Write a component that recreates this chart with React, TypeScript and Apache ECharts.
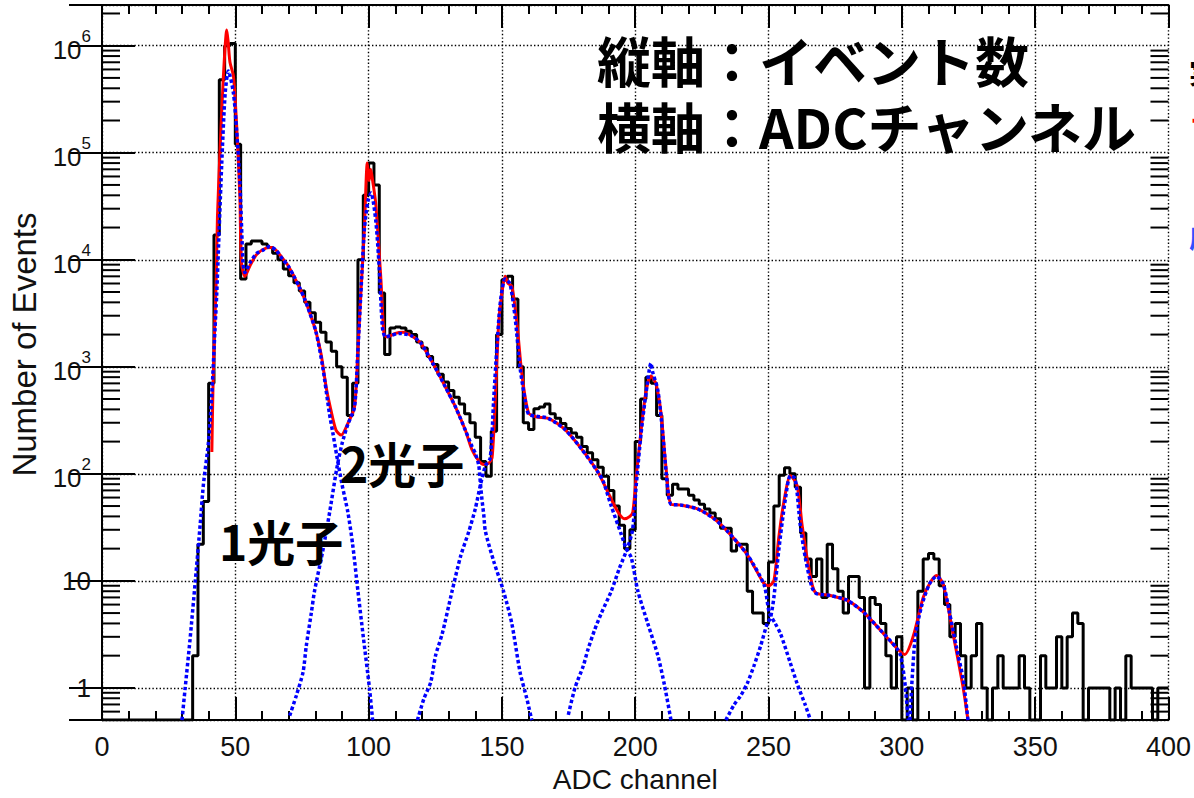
import React, { useEffect, useRef } from "react";
import * as echarts from "echarts";

// ---------- data ----------
const BIN_WIDTH = 2; // ADC channels per histogram bin
const FIRST_BIN = 0;
const X_MAX = 400;
const Y_MIN = 0.5;
const Y_MAX = 2.4e6;

// measured event counts, one value per 2-channel bin starting at channel 0
const eventCounts: number[] = [
  0, 0, 0, 0, 0, 0, 0, 0, 0, 0,
  0, 0, 0, 0, 0, 0, 0, 2, 22, 55,
  700, 17000, 480000, 1000000, 1050000, 120000, 6600, 14000, 15000, 15000,
  14000, 13000, 11500, 10000, 8200, 7100, 6100, 5100, 4000, 3200,
  2600, 2100, 1700, 1400, 1000, 800, 350, 700, 10000, 40000,
  80000, 50000, 4900, 1300, 2300, 2350, 2300, 2150, 2000, 1700,
  1500, 1250, 1050, 850, 720, 600, 520, 450, 365, 300,
  220, 130, 95, 250, 2000, 6500, 7000, 4300, 1000, 300,
  260, 405, 420, 450, 365, 330, 295, 265, 240, 220,
  180, 157, 135, 115, 95, 70, 50, 33, 20, 30,
  200, 500, 800, 700, 350, 90, 63, 80, 72, 72,
  63, 57, 52, 47, 43, 38, 31, 31, 19, 22,
  22, 8, 5, 5, 4, 15, 50, 97, 114, 100,
  75, 28, 16, 11, 16, 7, 22, 13, 8, 5,
  11, 11, 7, 1, 7, 6, 4, 2, 1, 3,
  0, 1, 0, 8, 16, 18, 16, 9, 6, 3,
  4, 2, 1, 2, 4, 1, 0, 1, 2, 1,
  1, 1, 2, 1, 0, 0, 2, 1, 1, 3,
  1, 3, 5, 4, 0, 1, 1, 1, 1, 0,
  1, 0, 2, 1, 1, 1, 1, 0, 1, 1,
];

// total fit function [channel, events]
const fitTotal: [number, number][] = [
  [41.2, 160], [41.6, 600], [42.2, 2100], [42.8, 6000], [43.3, 25000], [44.3, 110000],
  [45.5, 500000], [46.8, 1400000], [47.3, 1100000], [48, 700000], [49.3, 520000],
  [50.5, 180000], [51.7, 39000], [52.3, 9400], [53.6, 7000], [55.5, 8800], [58, 11200],
  [61.7, 12900], [63.5, 13000], [65.4, 12200], [67.5, 10500], [69.8, 8800], [72, 7000],
  [74.1, 5500], [76, 4300], [77.9, 3200], [80.3, 2100], [82.2, 1300], [84.1, 640],
  [85.9, 390], [87.8, 255], [89.7, 230], [92.2, 295], [94.7, 420], [95.9, 1300],
  [97.1, 4900], [98.4, 19000], [99.5, 80000], [100.2, 55000], [100.8, 70000],
  [101.5, 55000], [102.7, 33000], [104.6, 6600], [105.8, 2000], [107, 1900], [110, 2050],
  [113, 2100], [116, 1950], [119.5, 1670], [123.9, 1100], [128.9, 640], [132.6, 420],
  [136.3, 255], [138.8, 167], [141.3, 132], [143.2, 122], [145, 125], [146.3, 141],
  [147.5, 490], [148.8, 2600], [150, 4900], [151.2, 7000], [152.3, 6000], [153.7, 5700],
  [155.6, 2600], [157.5, 850], [160, 370], [163, 340], [167.4, 330], [173.6, 260],
  [179.9, 170], [186.1, 103], [189.8, 67], [193.5, 44], [196, 38], [198, 40], [199.1, 44],
  [200.4, 96], [202.2, 255], [204.1, 600], [205.9, 820], [207.8, 690], [209.7, 365],
  [211.6, 110], [213.4, 52], [217.2, 51], [223.4, 47], [229.6, 38], [234.6, 29],
  [242, 17.6], [248.3, 9.4], [250.1, 9], [252, 10], [253.8, 25], [255.7, 54], [258.2, 96],
  [260.7, 78], [262.6, 33], [265.1, 13.3], [267.5, 7.8], [273.1, 7.3], [279.4, 6.6],
  [285.6, 5.1], [291.8, 3.5], [298, 2.36], [301.1, 2.05], [304.2, 3], [308, 7],
  [310.5, 9.5], [313, 11.2], [315.5, 9.3], [319.2, 3.2], [323, 1.0], [324.8, 0.5],
];

// individual fit components (n-photon responses) [channel, events]
const comp1: [number, number][] = [
  [30, 0.5], [31.2, 1], [33, 2.8], [35, 10], [36.8, 33], [38, 78], [39.9, 194], [41.2, 560],
  [42.4, 2300], [43, 4600], [44.9, 78000], [46.2, 360000], [47.4, 580000], [49.3, 360000],
  [50.5, 160000], [51.7, 55000], [52.9, 9300], [53.6, 7600], [55.5, 9400], [58, 11500],
  [60.4, 12300], [62.9, 13300], [65.4, 12200], [67.9, 10000], [69.8, 8800], [72, 7000],
  [74.1, 5500], [76, 4300], [77.9, 3200], [80.3, 2100], [82.8, 990], [85.3, 365],
  [86.6, 240], [88, 150], [90, 80], [92.2, 44], [94, 22], [96, 8], [98, 3], [100.3, 1],
  [101.5, 0.5],
];
const comp2: [number, number][] = [
  [70.4, 0.55], [72.9, 0.85], [75.4, 1.4], [76.6, 2.45], [78.5, 5], [79.7, 8], [82.8, 19],
  [85.4, 44], [88, 110], [90, 190], [92.2, 290], [94.7, 420], [95.9, 1300], [97.1, 4900],
  [98.4, 19000], [99.7, 35000], [100.9, 42000], [102.7, 23000], [104, 8200], [105.2, 2300],
  [106.3, 1900], [108, 1950], [111.4, 2050], [116, 1950], [119.5, 1670], [123.9, 1100],
  [128.9, 640], [132.6, 420], [136.3, 255], [138.8, 180], [140, 156], [141.3, 120],
  [141.9, 83], [142.5, 58], [143.2, 41], [143.8, 29], [147, 15], [150.6, 8], [153.7, 4],
  [156.8, 1.4], [159.3, 0.8], [161.2, 0.5],
];
const comp3: [number, number][] = [
  [118.3, 0.5], [120.8, 0.8], [123.3, 1.13], [125.1, 2], [127.6, 3.2], [131.3, 8],
  [134.5, 17], [137.6, 29], [140, 47], [141.9, 78], [143.8, 119], [145.6, 140],
  [146.9, 490], [148.1, 1500], [149.4, 4000], [151.2, 6600], [153, 6000], [155, 2800],
  [156.8, 980], [158.7, 490], [160, 360], [163, 345], [167.4, 330], [173.6, 260],
  [179.9, 170], [186.1, 103], [188, 85], [191, 50], [194.8, 27], [196.6, 20], [198.5, 16.5],
  [201, 8], [204.7, 4], [208.5, 2], [211, 1.05], [213.4, 0.5],
];
const comp4: [number, number][] = [
  [174.9, 0.56], [177.4, 1], [180.5, 1.6], [182.3, 2.3], [184.8, 3.5], [187.3, 5], [191, 8],
  [194, 13], [197, 20], [199, 30], [200.4, 80], [202.2, 240], [204.1, 580], [205.9, 1080],
  [206.5, 900], [208.5, 600], [210.3, 240], [212.2, 72], [213.4, 52], [217.2, 51],
  [223.4, 47], [229.6, 38], [234.6, 29], [242, 17.6], [248.3, 9.2], [250.3, 5], [252.5, 4],
  [254.5, 3.2], [258.2, 1.7], [260.7, 1.1], [263.8, 0.69], [265.7, 0.5],
];
const comp5: [number, number][] = [
  [234, 0.5], [237, 0.69], [239.6, 0.85], [242, 1.1], [244.5, 1.6], [247, 2.45], [249.5, 4],
  [250.7, 4.5], [252, 7], [253.8, 19], [256.3, 58], [258.2, 96], [260, 90], [261.9, 33],
  [263.8, 16.4], [266.3, 8.7], [268, 7.6], [273.1, 7.3], [279.4, 6.6], [285.6, 5.1],
  [291.8, 3.5], [298, 2.36], [299.5, 2], [301, 1.2], [302.4, 0.5],
];
const comp6: [number, number][] = [
  [303, 0.5], [304.9, 2.8], [307.3, 5.7], [310.4, 9.4], [313, 11], [315.5, 9.4],
  [317.9, 5], [320.4, 2.45], [323, 1.2], [324.8, 0.5],
];
const components = [comp1, comp2, comp3, comp4, comp5, comp6];

const xAxisTitle = "ADC channel";
const yAxisTitle = "Number of Events";
const noteLines = ["縦軸：イベント数", "横軸：ADCチャンネル"];
const peakLabels = ["1光子", "2光子"];
const legendFragments = ["実測", "フィット", "成分"];

// ---------- helpers ----------
const LATIN = "'Liberation Sans', Arial, Helvetica, sans-serif";
const CJK = "'Noto Sans CJK JP', 'Noto Sans', sans-serif";

function histogramSteps(): [number, number][] {
  const shown = (c: number) => (c > 0 ? c : Y_MIN);
  const pts: [number, number][] = eventCounts.map((c, i) => [FIRST_BIN + i * BIN_WIDTH, shown(c)]);
  pts.push([FIRST_BIN + eventCounts.length * BIN_WIDTH, shown(eventCounts[eventCounts.length - 1])]);
  return pts;
}

function minorTickValues(): number[] {
  const vals: number[] = [];
  for (let e = -1; e <= 6; e++) {
    for (let k = 2; k <= 9; k++) {
      const v = k * Math.pow(10, e);
      if (v > Y_MIN * 1.01 && v < Y_MAX) vals.push(v);
    }
  }
  return vals;
}

const gridLine = { show: true, lineStyle: { color: "#000", width: 1.4, type: [1.4, 2.2] as number[] } };

export default function App() {
  const ref = useRef<HTMLDivElement>(null);
  useEffect(() => {
    const chart = echarts.init(ref.current!, null, { renderer: "svg" });
    const yAxisBase = {
      type: "log" as const,
      min: Y_MIN,
      max: Y_MAX,
      logBase: 10,
      axisLine: { show: true, lineStyle: { color: "#000", width: 2 } },
      axisTick: { show: true, inside: true, length: 33, lineStyle: { color: "#000", width: 2 } },
    };
    const xAxisBase = {
      type: "value" as const,
      min: 0,
      max: X_MAX,
      interval: 50,
      axisLine: { show: true, onZero: false, lineStyle: { color: "#000", width: 2 } },
      axisTick: { show: true, inside: true, length: 23, lineStyle: { color: "#000", width: 2 } },
      minorTick: { show: true, splitNumber: 5, length: 9, lineStyle: { color: "#000", width: 2 } },
    };

    const dottedBlue = (data: [number, number][]) => ({
      type: "line",
      data,
      showSymbol: false,
      symbol: "none",
      smooth: 0.25,
      clip: true,
      z: 4,
      lineStyle: { color: "#0000ff", width: 3.5, type: [3.5, 2.5] as number[] },
    });

    chart.setOption({
      animation: false,
      backgroundColor: "#fff",
      grid: { left: 98, right: 24, top: 5, bottom: 67, containLabel: false },
      xAxis: [
        {
          ...xAxisBase,
          position: "bottom",
          name: xAxisTitle,
          nameLocation: "middle",
          nameGap: 44,
          nameTextStyle: { fontFamily: LATIN, fontSize: 28, color: "#111" },
          axisLabel: { show: true, margin: 13, fontFamily: LATIN, fontSize: 27, color: "#111" },
          splitLine: gridLine,
        },
        {
          ...xAxisBase,
          position: "top",
          axisLabel: { show: false },
          splitLine: { show: false },
        },
      ],
      yAxis: [
        {
          ...yAxisBase,
          position: "left",
          name: yAxisTitle,
          nameLocation: "middle",
          nameGap: 61,
          nameTextStyle: { fontFamily: LATIN, fontSize: 33, color: "#111", padding: [0, 0, 0, 36] },
          splitLine: gridLine,
          axisLabel: {
            show: true,
            margin: 11,
            showMinLabel: false,
            showMaxLabel: false,
            fontFamily: LATIN,
            fontSize: 26,
            color: "#111",
            formatter: (v: number) => {
              const e = Math.round(Math.log10(v));
              if (e <= 0) return "1";
              if (e === 1) return "10";
              return `{b|10}{s|${e}}`;
            },
            rich: {
              b: { fontFamily: LATIN, fontSize: 26, color: "#111", lineHeight: 26, verticalAlign: "bottom" },
              s: { fontFamily: LATIN, fontSize: 17, color: "#111", lineHeight: 35, padding: [0, 0, 3, 0], verticalAlign: "top" },
            },
          },
        },
        {
          ...yAxisBase,
          position: "right",
          axisLabel: { show: false },
          splitLine: { show: false },
        },
      ],
      graphic: [
        {
          type: "text",
          left: 597,
          top: 26,
          z: 100,
          style: {
            text: noteLines.join("\n"),
            fontFamily: CJK,
            fontWeight: "bold",
            fontSize: 54,
            lineHeight: 66,
            fill: "#000",
          },
        },
        {
          type: "text",
          left: 219,
          top: 516,
          z: 100,
          style: { text: peakLabels[0], fontFamily: CJK, fontWeight: "bold", fontSize: 48, fill: "#000" },
        },
        {
          type: "text",
          left: 340,
          top: 438,
          z: 100,
          style: { text: peakLabels[1], fontFamily: CJK, fontWeight: "bold", fontSize: 48, fill: "#000" },
        },
        { type: "text", left: 1189, top: 58, z: 100, style: { text: legendFragments[0], fontFamily: CJK, fontWeight: "bold", fontSize: 28, fill: "#000" } },
        { type: "text", left: 1189, top: 114, z: 100, style: { text: legendFragments[1], fontFamily: CJK, fontWeight: "bold", fontSize: 28, fill: "#ff0000" } },
        { type: "text", left: 1189, top: 222, z: 100, style: { text: legendFragments[2], fontFamily: CJK, fontWeight: "bold", fontSize: 28, fill: "#3050ff" } },
      ],
      series: [
        {
          type: "line",
          name: "data",
          data: histogramSteps(),
          step: "end",
          showSymbol: false,
          symbol: "none",
          clip: true,
          z: 2,
          lineStyle: { color: "#000", width: 3 },
        },
        {
          type: "line",
          name: "fit",
          data: fitTotal,
          showSymbol: false,
          symbol: "none",
          smooth: 0.25,
          clip: true,
          z: 3,
          lineStyle: { color: "#ff0000", width: 3 },
        },
        ...components.map((c) => dottedBlue(c)),
        {
          type: "custom",
          name: "minorTicks",
          data: minorTickValues().map((v) => [0, v]),
          silent: true,
          z: 5,
          clip: false,
          renderItem: (_params: any, api: any) => {
            const v = api.value(1);
            const l = api.coord([0, v]);
            const r = api.coord([X_MAX, v]);
            const style = { stroke: "#000", lineWidth: 2 };
            return {
              type: "group",
              children: [
                { type: "line", shape: { x1: l[0], y1: l[1], x2: l[0] + 18, y2: l[1] }, style },
                { type: "line", shape: { x1: r[0] - 18, y1: r[1], x2: r[0], y2: r[1] }, style },
              ],
            };
          },
        },
      ],
    });
    return () => chart.dispose();
  }, []);
  return (
    <div
      ref={ref}
      style={{ position: "absolute", left: 0, top: 0, width: 1194, height: 798, background: "#fff" }}
    />
  );
}
